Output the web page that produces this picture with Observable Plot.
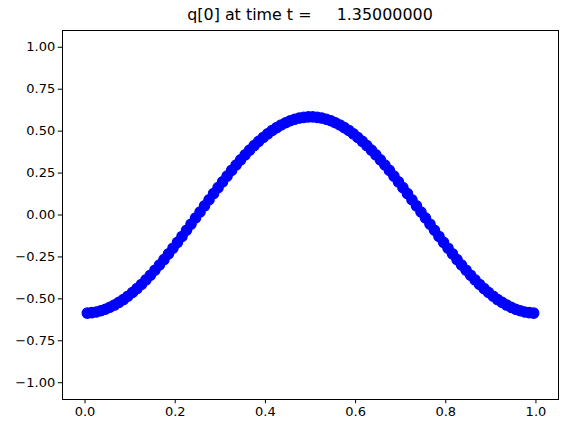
<!DOCTYPE html>
<html>
<head>
<meta charset="utf-8">
<script src="https://cdn.jsdelivr.net/npm/d3@7"></script>
<script src="https://cdn.jsdelivr.net/npm/@observablehq/plot@0.6"></script>
<style>
  html, body { margin: 0; padding: 0; background: #fff; }
  #wrap { width: 568px; height: 433px; position: relative; }
  #title { position: absolute; left: 62px; width: 496px; top: 0; height: 26px; box-sizing: border-box; padding-top: 3.5px;
           font-family: "DejaVu Sans", sans-serif; font-size: 15.9px; line-height: 22px; text-align: center; white-space: pre; color: #000; }
  #chart { position: absolute; left: 0; top: 26px; }
  svg text { font-family: "DejaVu Sans", sans-serif; }
</style>
</head>
<body>
<div id="wrap">
  <div id="title">q[0] at time t =     1.35000000</div>
  <div id="chart"></div>
</div>
<script>
const titleText = "q[0] at time t =     1.35000000";
const xs = [0.005,0.015,0.025,0.035,0.045,0.055,0.065,0.075,0.085,0.095,
            0.105,0.115,0.125,0.135,0.145,0.155,0.165,0.175,0.185,0.195,
            0.205,0.215,0.225,0.235,0.245,0.255,0.265,0.275,0.285,0.295,
            0.305,0.315,0.325,0.335,0.345,0.355,0.365,0.375,0.385,0.395,
            0.405,0.415,0.425,0.435,0.445,0.455,0.465,0.475,0.485,0.495,
            0.505,0.515,0.525,0.535,0.545,0.555,0.565,0.575,0.585,0.595,
            0.605,0.615,0.625,0.635,0.645,0.655,0.665,0.675,0.685,0.695,
            0.705,0.715,0.725,0.735,0.745,0.755,0.765,0.775,0.785,0.795,
            0.805,0.815,0.825,0.835,0.845,0.855,0.865,0.875,0.885,0.895,
            0.905,0.915,0.925,0.935,0.945,0.955,0.965,0.975,0.985,0.995];
const qs = [-0.585,-0.582,-0.578,-0.571,-0.562,-0.550,-0.537,-0.521,-0.504,-0.484,
            -0.462,-0.439,-0.414,-0.387,-0.359,-0.329,-0.298,-0.266,-0.232,-0.198,
            -0.163,-0.128,-0.091,-0.055,-0.018,0.018,0.055,0.091,0.128,0.163,
            0.198,0.232,0.266,0.298,0.329,0.359,0.387,0.414,0.439,0.462,
            0.484,0.504,0.521,0.537,0.550,0.562,0.571,0.578,0.582,0.585,
            0.585,0.582,0.578,0.571,0.562,0.550,0.537,0.521,0.504,0.484,
            0.462,0.439,0.414,0.387,0.359,0.329,0.298,0.266,0.232,0.198,
            0.163,0.128,0.091,0.055,0.018,-0.018,-0.055,-0.091,-0.128,-0.163,
            -0.198,-0.232,-0.266,-0.298,-0.329,-0.359,-0.387,-0.414,-0.439,-0.462,
            -0.484,-0.504,-0.521,-0.537,-0.550,-0.562,-0.571,-0.578,-0.582,-0.585];
const xTicks = [0.0, 0.2, 0.4, 0.6, 0.8, 1.0];
const yTicks = [-1.0, -0.75, -0.5, -0.25, 0.0, 0.25, 0.5, 0.75, 1.0];

const data = xs.map((x, i) => ({x, q: qs[i]}));

const chart = Plot.plot({
  width: 568,
  height: 407,
  marginLeft: 62,
  marginRight: 10,
  marginTop: 4,
  marginBottom: 34,
  style: {fontFamily: "DejaVu Sans, sans-serif", fontSize: "13px", color: "#000", background: "#fff"},
  x: {domain: [-0.05, 1.05], ticks: xTicks, tickFormat: d3.format(".1f"), label: null, tickSize: 4.3, tickPadding: 3},
  y: {domain: [-1.1, 1.1], ticks: yTicks, tickFormat: d3.format(".2f"), label: null, tickSize: 4.3, tickPadding: 3},
  marks: [
    Plot.dot(data, {x: "x", y: "q", r: 5.2, fill: "blue", stroke: "blue", strokeWidth: 1.2, fillOpacity: 1, strokeOpacity: 1}),
    Plot.frame({stroke: "#000", strokeWidth: 1})
  ]
});
document.getElementById("chart").appendChild(chart);
</script>
</body>
</html>
